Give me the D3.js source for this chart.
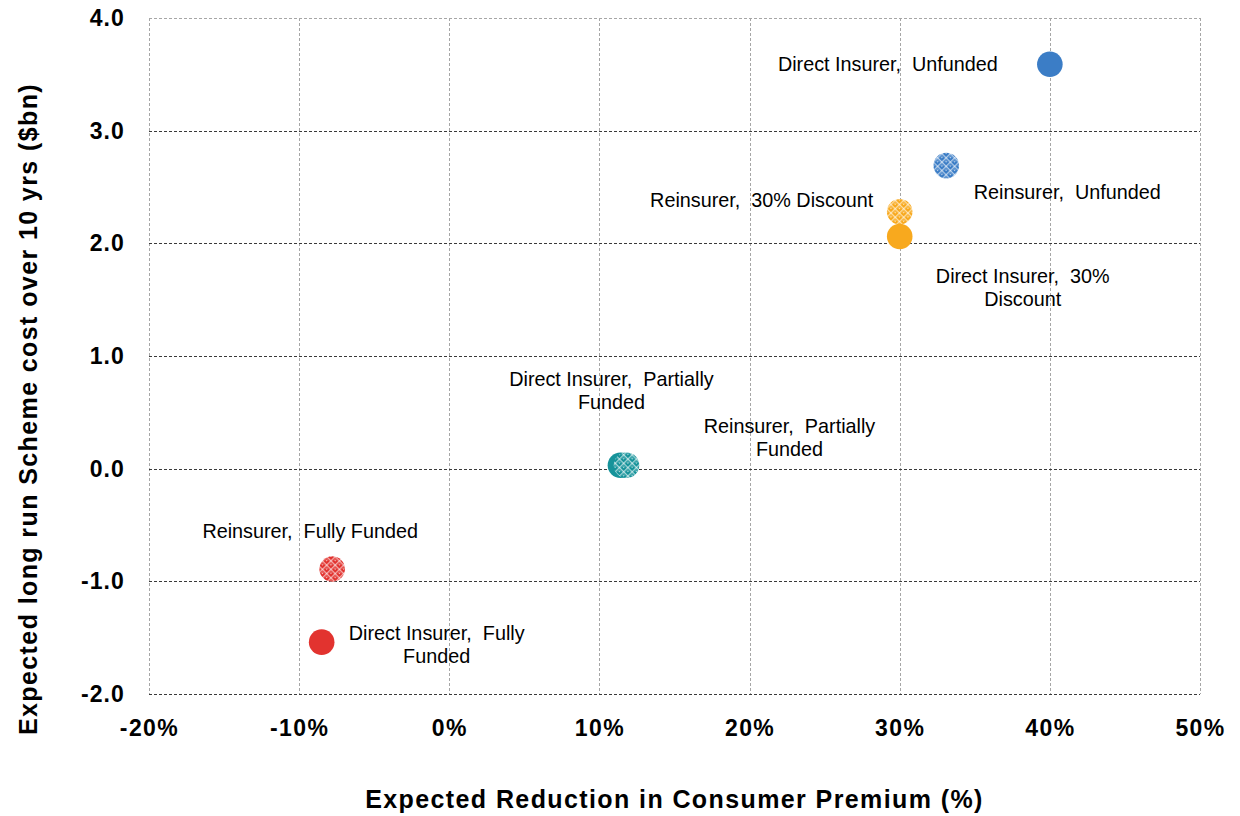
<!DOCTYPE html>
<html>
<head>
<meta charset="utf-8">
<script src="https://cdn.jsdelivr.net/npm/d3@7/dist/d3.min.js"></script>
<style>
  html, body { margin: 0; padding: 0; background: #fff; }
  svg { display: block; font-family: "Liberation Sans", Arial, sans-serif; }
</style>
</head>
<body>
<svg id="chart" width="1240" height="816"></svg>
<script>
// Scenario names, one per marker
const scenarios = [
  "Direct Insurer,  Unfunded",
  "Reinsurer,  Unfunded",
  "Reinsurer,  30% Discount",
  "Direct Insurer,  30% Discount",
  "Direct Insurer,  Partially Funded",
  "Reinsurer,  Partially Funded",
  "Reinsurer,  Fully Funded",
  "Direct Insurer,  Fully Funded"
];
// Expected reduction in consumer premium (fraction)
const premiumReduction = [0.40, 0.331, 0.30, 0.30, 0.114, 0.118, -0.078, -0.085];
// Expected long run scheme cost over 10 yrs ($bn)
const schemeCost = [3.59, 2.69, 2.28, 2.06, 0.03, 0.03, -0.89, -1.54];
// Funding group (colour) and whether the insurer is a reinsurer (hatched)
const fundingGroup = ["unfunded", "unfunded", "discount", "discount", "partial", "partial", "full", "full"];
const isReinsurer = [false, true, true, false, false, true, true, false];
// Label lines for each marker
const labelLines = [
  ["Direct Insurer,  Unfunded"],
  ["Reinsurer,  Unfunded"],
  ["Reinsurer,  30% Discount"],
  ["Direct Insurer,  30%", "Discount"],
  ["Direct Insurer,  Partially", "Funded"],
  ["Reinsurer,  Partially", "Funded"],
  ["Reinsurer,  Fully Funded"],
  ["Direct Insurer,  Fully", "Funded"]
];
// Tick values
const xTicks = [-0.2, -0.1, 0, 0.1, 0.2, 0.3, 0.4, 0.5];
const yTicks = [-2, -1, 0, 1, 2, 3, 4];

// Layout: label offsets from the marker centre (px), first line centre
const labelOffsets = [
  [-162, 0], [121, 26], [-138, -12], [123, 39],
  [-9, -86], [163, -39], [-22, -38], [115, -9]
];

const groupColor = {
  unfunded: "#3b7dc6",
  discount: "#f8a91e",
  partial: "#16939a",
  full: "#e2332f"
};

const svg = d3.select("#chart");
const margin = { left: 149, right: 40, top: 18, bottom: 122 };
const W = 1240, H = 816;

const x = d3.scaleLinear().domain([-0.2, 0.5]).range([margin.left, W - margin.right]);
const y = d3.scaleLinear().domain([-2, 4]).range([H - margin.bottom, margin.top]);

const locale = d3.formatLocale({ decimal: ".", thousands: ",", grouping: [3], currency: ["$", ""], minus: "-" });
const fmtPct = locale.format(".0%");
const fmtNum = locale.format(".1f");

// Lattice patterns for reinsurer markers
const defs = svg.append("defs");
Object.entries(groupColor).forEach(([key, col]) => {
  const p = defs.append("pattern")
    .attr("id", "hatch-" + key)
    .attr("patternUnits", "userSpaceOnUse")
    .attr("width", 6).attr("height", 6)
    .attr("patternTransform", "rotate(45)");
  p.append("rect").attr("width", 6).attr("height", 6).attr("fill", col);
  p.append("rect").attr("x", 0).attr("y", 0).attr("width", 6).attr("height", 1.3)
    .attr("fill", "#fff").attr("opacity", 0.6);
  p.append("rect").attr("x", 0).attr("y", 0).attr("width", 1.3).attr("height", 6)
    .attr("fill", "#fff").attr("opacity", 0.6);
  p.append("rect").attr("x", 2.6).attr("y", 2.6).attr("width", 1.4).attr("height", 1.4)
    .attr("fill", "#fff").attr("opacity", 0.7);
});

const [x0, x1] = x.range();
const [y1, y0] = y.range();

// Vertical gridlines (light grey dashed)
svg.append("g").selectAll("line").data(xTicks).join("line")
  .attr("x1", d => Math.round(x(d)) + 0.5).attr("x2", d => Math.round(x(d)) + 0.5)
  .attr("y1", y0).attr("y2", y1)
  .attr("stroke", "#a6a6a6").attr("stroke-width", 1).attr("stroke-dasharray", "3,2");

// Horizontal gridlines (dark dashed), top border lighter
svg.append("g").selectAll("line").data(yTicks).join("line")
  .attr("x1", x0).attr("x2", x1)
  .attr("y1", d => Math.round(y(d)) + 0.5).attr("y2", d => Math.round(y(d)) + 0.5)
  .attr("stroke", d => d === 4 ? "#a6a6a6" : "#3a3a3a")
  .attr("stroke-width", 1).attr("stroke-dasharray", "3,2");

// Axes (tick labels only)
const xAxis = svg.append("g")
  .attr("transform", `translate(0,${y1 + 23})`)
  .call(d3.axisBottom(x).tickValues(xTicks).tickFormat(fmtPct).tickSize(0));
xAxis.select(".domain").remove();
xAxis.selectAll("text")
  .attr("font-family", "Liberation Sans, Arial, sans-serif")
  .attr("font-size", 23).attr("font-weight", "bold").attr("fill", "#000")
  .attr("letter-spacing", "1.4px");

const yAxis = svg.append("g")
  .attr("transform", `translate(${x0 - 21},0)`)
  .call(d3.axisLeft(y).tickValues(yTicks).tickFormat(fmtNum).tickSize(0));
yAxis.select(".domain").remove();
yAxis.selectAll("text")
  .attr("font-family", "Liberation Sans, Arial, sans-serif")
  .attr("font-size", 23).attr("font-weight", "bold").attr("fill", "#000")
  .attr("letter-spacing", "1.1px");

// Axis titles
svg.append("text")
  .attr("x", (x0 + x1) / 2).attr("y", 808)
  .attr("text-anchor", "middle")
  .attr("font-size", 25).attr("font-weight", "bold")
  .attr("letter-spacing", "1.4px")
  .text("Expected Reduction in Consumer Premium (%)");

svg.append("text")
  .attr("transform", `translate(37,${(y0 + y1) / 2 + 53}) rotate(-90)`)
  .attr("text-anchor", "middle")
  .attr("font-size", 25).attr("font-weight", "bold")
  .attr("letter-spacing", "1.4px")
  .text("Expected long run Scheme cost over 10 yrs ($bn)");

// Markers: solid for direct insurers, lattice fill for reinsurers
const points = scenarios.map((name, i) => ({
  name, px: premiumReduction[i], cost: schemeCost[i],
  group: fundingGroup[i], re: isReinsurer[i], lines: labelLines[i], off: labelOffsets[i]
}));

svg.append("g").selectAll("circle").data(points).join("circle")
  .attr("cx", d => x(d.px)).attr("cy", d => y(d.cost)).attr("r", 12.8)
  .attr("fill", d => d.re ? `url(#hatch-${d.group})` : groupColor[d.group]);

// Point labels
const labels = svg.append("g").selectAll("text").data(points).join("text")
  .attr("text-anchor", "middle")
  .attr("font-size", 19.8).attr("fill", "#000")
  .attr("transform", d => `translate(${x(d.px) + d.off[0]},${y(d.cost) + d.off[1]})`);
labels.selectAll("tspan").data(d => d.lines).join("tspan")
  .attr("x", 0).attr("dy", (l, i) => i === 0 ? "0.35em" : "1.17em")
  .attr("xml:space", "preserve")
  .style("white-space", "pre")
  .text(l => l);
</script>
</body>
</html>
